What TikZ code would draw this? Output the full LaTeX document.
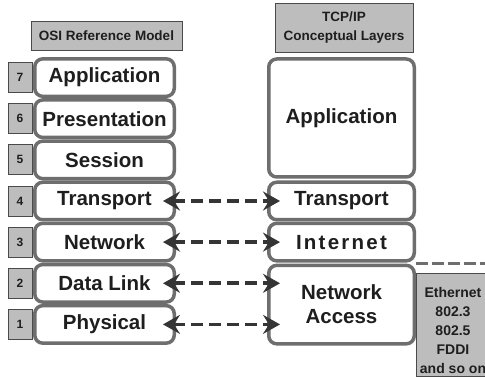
\documentclass[tikz,border=0pt]{standalone}
\usepackage{fontspec}
\setmainfont{Liberation Sans}
\usetikzlibrary{arrows.meta}
\definecolor{boxedge}{HTML}{6E6E6E}
\definecolor{tagfill}{HTML}{BDBDBD}
\definecolor{tagedge}{HTML}{4A4A4A}
\definecolor{ink}{HTML}{1E1E1E}
\definecolor{arrowink}{HTML}{353535}
\tikzset{
  layer/.style={draw=boxedge, line width=3.5pt, rounded corners=8pt, fill=white,
    inner sep=0pt, text=ink, align=center,
    font=\fontsize{20.5}{24}\selectfont\bfseries},
  numtag/.style={draw=tagedge, line width=0.8pt, fill=tagfill, inner sep=0pt,
    minimum width=24pt, minimum height=30pt, text=ink,
    font=\fontsize{12}{14}\selectfont\bfseries},
  header/.style={draw=tagedge, line width=0.8pt, fill=tagfill, inner sep=0pt,
    align=center, text=ink, font=\fontsize{13.5}{19}\selectfont\bfseries},
  peer/.style={arrowink, line width=3.8pt, dash pattern=on 12pt off 6pt,
    {Stealth[length=17pt,width=19pt,inset=6pt]}-{Stealth[length=17pt,width=19pt,inset=6pt]},
    shorten <=-13pt, shorten >=-13pt},
  rule/.style={boxedge, line width=3pt, dash pattern=on 12pt off 4pt},
}
\begin{document}
\begin{tikzpicture}[x=1pt, y=-1pt]
\clip (0,0) rectangle (485,377);
\fill[white] (0,0) rectangle (485,377);

% OSI column
\node[header, minimum width=151pt, minimum height=29pt] (osih) at (106.5,35.5) {OSI Reference Model};
\foreach \n/\lab/\y in {7/Application/77.6, 6/Presentation/118.7, 5/Session/159.9,
    4/Transport/201, 3/Network/242.1, 2/Data Link/283.3, 1/Physical/324.4}{
  \node[numtag] (num\n) at (20,\y) {\n};
  \node[layer, minimum width=139.5pt, minimum height=37.5pt] (osi\n) at (104.5,\y) {\lab};
}

% TCP/IP column
\node[header, minimum width=138pt, minimum height=49pt] (tcph) at (344,27.5) {TCP/IP\\Conceptual Layers};
\node[layer, minimum width=145.5pt, minimum height=118pt] (tapp) at (341.5,118) {Application};
\node[layer, minimum width=145.5pt, minimum height=37.5pt] (ttra) at (341.5,201) {Transport};
\node[layer, minimum width=145.5pt, minimum height=37.5pt] (tint) at (341.5,242.1)
  {\addfontfeature{LetterSpace=11}Internet};
\node[layer, minimum width=145.5pt, minimum height=78.5pt] (tnet) at (341.5,304.6) {Network\\Access};

% link technologies: box, its text list, and the dashed rule above it
\node[header, minimum width=74pt, minimum height=103pt] (tech) at (453,324.5) {};
\node[align=center, inner sep=0pt, text=ink, font=\fontsize{14}{19}\selectfont\bfseries]
  (techlist) at ([yshift=-6pt]tech.center) {Ethernet\\802.3\\802.5\\FDDI\\and so on};
\draw[rule] ([yshift=9pt]tech.north west) -- ([yshift=9pt]tech.north east);

% peer correspondences
\draw[peer] (osi4.east) -- (ttra.west);
\draw[peer] (osi3.east) -- (tint.west);
\draw[peer] (osi2.east) -- (osi2.east -| tnet.west);
\draw[peer] (osi1.east) -- (osi1.east -| tnet.west);
\end{tikzpicture}
\end{document}
